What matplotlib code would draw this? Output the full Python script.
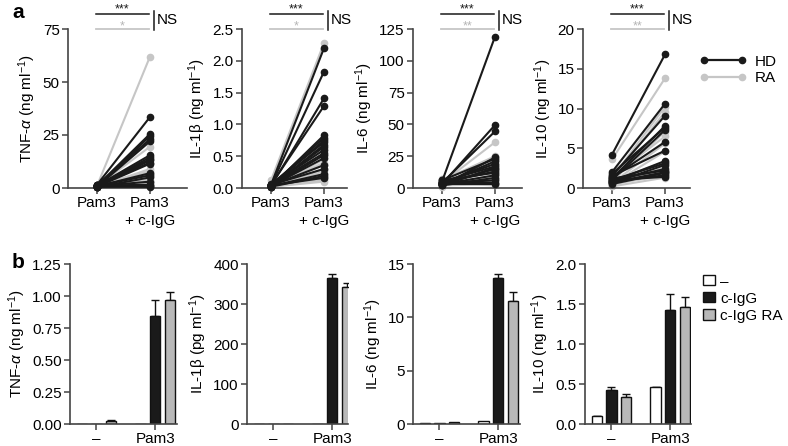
import numpy as np
import matplotlib
matplotlib.use("Agg")
import matplotlib.pyplot as plt
from matplotlib.lines import Line2D
from matplotlib.patches import Patch

plt.rcParams['font.family'] = ['Liberation Sans', 'DejaVu Sans']
plt.rcParams['mathtext.fontset'] = 'custom'
plt.rcParams['mathtext.rm'] = 'Liberation Sans'
plt.rcParams['mathtext.it'] = 'Liberation Sans:italic'
plt.rcParams['font.size'] = 11

# ---- panel a: paired data (Pam3 -> Pam3 + c-IgG) ----
tnf_hd_pre = [1.5, 1.0, 0.8, 1.2, 0.5, 1.0, 0.7, 1.3, 0.9, 1.1, 0.6, 0.8, 1.0, 0.4, 0.9, 1.2, 0.5, 0.7]
tnf_hd_post = [33.5, 25.5, 24.5, 23.0, 22.0, 15.5, 14.5, 13.5, 13.0, 12.0, 11.5, 7.0, 6.0, 5.0, 3.0, 1.5, 1.0, 0.5]
tnf_ra_pre = [1.0, 0.8, 0.5, 1.2, 0.6, 0.9, 0.4, 0.7, 1.1, 0.3, 0.6, 0.8, 0.5, 0.9, 0.4]
tnf_ra_post = [62.0, 19.5, 9.0, 8.0, 7.0, 6.5, 5.5, 5.0, 4.0, 3.5, 3.0, 2.5, 2.0, 1.5, 1.0]

il1_hd_pre = [0.05, 0.04, 0.03, 0.05, 0.02, 0.04, 0.03, 0.06, 0.02, 0.03, 0.05, 0.04, 0.02, 0.03, 0.04, 0.05, 0.03, 0.02, 0.04]
il1_hd_post = [2.2, 1.83, 1.41, 1.29, 0.83, 0.79, 0.75, 0.72, 0.68, 0.65, 0.6, 0.55, 0.52, 0.47, 0.36, 0.3, 0.22, 0.19, 0.16]
il1_ra_pre = [0.12, 0.02, 0.03, 0.01, 0.02, 0.04, 0.01, 0.03, 0.02, 0.01, 0.02, 0.03, 0.02]
il1_ra_post = [2.28, 0.62, 0.52, 0.45, 0.4, 0.36, 0.3, 0.26, 0.22, 0.18, 0.15, 0.12, 0.1]

il6_hd_pre = [5, 3, 4, 2, 6, 3, 4, 5, 2, 3, 4, 6, 3, 2, 4, 5, 3]
il6_hd_post = [119, 49.5, 44.5, 24, 23, 21, 19, 17, 16, 15, 13, 12, 10, 8, 6, 4, 3]
il6_ra_pre = [4, 6, 2, 7, 3, 5, 1, 4, 6, 2, 3, 5, 7, 2, 4]
il6_ra_post = [36, 25, 24, 22.5, 21, 19, 17, 14, 12, 10, 8, 6, 5, 3, 2]

il10_hd_pre = [4.2, 2.0, 1.5, 1.2, 1.8, 1.0, 1.3, 1.5, 0.8, 1.0, 0.6, 0.9, 1.2, 0.7, 0.5, 0.8, 1.0]
il10_hd_post = [16.8, 10.6, 9.1, 7.8, 7.6, 7.3, 5.8, 4.7, 3.4, 3.1, 2.9, 2.4, 2.2, 2.0, 1.9, 1.6, 1.4]
il10_ra_pre = [3.6, 1.3, 1.0, 0.8, 1.4, 0.6, 0.5, 0.9, 0.3, 0.7, 0.4, 0.6, 0.2]
il10_ra_post = [13.8, 10.2, 9.6, 7.1, 6.5, 5.6, 4.6, 3.3, 2.6, 2.2, 1.8, 1.5, 1.3]

a_labels = [r'TNF-$\alpha$ (ng ml$^{-1}$)', 'IL-1β (ng ml$^{-1}$)', 'IL-6 (ng ml$^{-1}$)', 'IL-10 (ng ml$^{-1}$)']
a_ticks = [[0, 25, 50, 75], [0.0, 0.5, 1.0, 1.5, 2.0, 2.5], [0, 25, 50, 75, 100, 125], [0, 5, 10, 15, 20]]
a_ticklabels = [['0', '25', '50', '75'], ['0.0', '0.5', '1.0', '1.5', '2.0', '2.5'],
                ['0', '25', '50', '75', '100', '125'], ['0', '5', '10', '15', '20']]
a_stars_ra = ['*', '*', '**', '**']
a_x = ['Pam3', 'Pam3\n+ c-IgG']

# ---- panel b: bars (means, upper error) ----
groups = ['–', 'Pam3']
conds = ['–', 'c-IgG', 'c-IgG RA']
tnf_b = [[0.003, 0.002, 0.022], [0.003, 0.84, 0.965]]
tnf_b_err = [[0.0, 0.0, 0.012], [0.0, 0.13, 0.065]]
il1_b = [[0.0, 0.0, 0.0], [0.0, 365, 343]]
il1_b_err = [[0, 0, 0], [0, 10, 10]]
il6_b = [[0.05, 0.1, 0.15], [0.25, 13.65, 11.55]]
il6_b_err = [[0, 0, 0], [0, 0.4, 0.8]]
il10_b = [[0.1, 0.42, 0.34], [0.46, 1.43, 1.46]]
il10_b_err = [[0.005, 0.04, 0.03], [0.005, 0.2, 0.13]]

b_labels = [r'TNF-$\alpha$ (ng ml$^{-1}$)', 'IL-1β (pg ml$^{-1}$)', 'IL-6 (ng ml$^{-1}$)', 'IL-10 (ng ml$^{-1}$)']
b_ticks = [[0, 0.25, 0.5, 0.75, 1.0, 1.25], [0, 100, 200, 300, 400], [0, 5, 10, 15], [0, 0.5, 1.0, 1.5, 2.0]]
b_ticklabels = [['0.00', '0.25', '0.50', '0.75', '1.00', '1.25'], ['0', '100', '200', '300', '400'],
                ['0', '5', '10', '15'], ['0.0', '0.5', '1.0', '1.5', '2.0']]

HD = '#1a1a1a'
RA = '#c6c6c6'
SPINE = '#444444'
bar_colors = ['white', '#1a1a1a', '#b8b8b8']

W, H = 788, 446
fig = plt.figure(figsize=(W / 100, H / 100), dpi=100)


def px_axes(l, r, t, b):
    return fig.add_axes([l / W, 1 - b / H, (r - l) / W, (b - t) / H])


def style(ax):
    for s in ['top', 'right']:
        ax.spines[s].set_visible(False)
    for s in ['left', 'bottom']:
        ax.spines[s].set_color(SPINE)
        ax.spines[s].set_linewidth(1.2)
    ax.tick_params(direction='out', length=4, width=1.1, color=SPINE, labelsize=11, pad=2)


# top row
a_boxes = [(68, 187), (242, 347), (413, 522), (583, 690)]
a_data = [(tnf_hd_pre, tnf_hd_post, tnf_ra_pre, tnf_ra_post),
          (il1_hd_pre, il1_hd_post, il1_ra_pre, il1_ra_post),
          (il6_hd_pre, il6_hd_post, il6_ra_pre, il6_ra_post),
          (il10_hd_pre, il10_hd_post, il10_ra_pre, il10_ra_post)]
for i, (l, r) in enumerate(a_boxes):
    ax = px_axes(l, r, 29, 188)
    style(ax)
    hd_pre, hd_post, ra_pre, ra_post = a_data[i]
    for p, q in zip(ra_pre, ra_post):
        ax.plot([0, 1], [p, q], '-o', color=RA, lw=1.5, ms=4.5, clip_on=False, zorder=2)
    for p, q in zip(hd_pre, hd_post):
        ax.plot([0, 1], [p, q], '-o', color=HD, lw=1.5, ms=4.5, clip_on=False, zorder=3)
    scale = 53.0
    ax.set_xlim(-29 / scale, (r - l - 29) / scale)
    ax.set_ylim(a_ticks[i][0], a_ticks[i][-1])
    ax.set_yticks(a_ticks[i])
    ax.set_yticklabels(a_ticklabels[i])
    ax.set_xticks([0, 1])
    ax.set_xticklabels(a_x, linespacing=1.3)
    ax.set_ylabel(a_labels[i], labelpad=3)
    # significance marks
    tr = ax.get_xaxis_transform()
    ax.plot([-0.02, 0.98], [1.097, 1.097], color=HD, lw=1.1, transform=tr, clip_on=False)
    ax.plot([-0.02, 0.98], [1.0, 1.0], color=RA, lw=1.3, transform=tr, clip_on=False)
    ax.text(0.48, 1.103, '***', color=HD, fontsize=9, ha='center', va='baseline', transform=tr)
    ax.text(0.48, 0.995, a_stars_ra[i], color='#b5b5b5', fontsize=9, ha='center', va='baseline', transform=tr)
    ax.plot([1.08, 1.08], [0.995, 1.115], color=HD, lw=1.1, transform=tr, clip_on=False)
    ax.text(1.13, 1.055, 'NS', fontsize=11, ha='left', va='center', transform=tr)

fig.legend(handles=[Line2D([0], [0], color=HD, lw=1.6, marker='o', ms=4.5),
                    Line2D([0], [0], color=RA, lw=1.6, marker='o', ms=4.5)],
           labels=['HD', 'RA'], loc='upper left', bbox_to_anchor=(689 / W, 1 - 44 / H),
           numpoints=2, frameon=False, handlelength=3.1, handletextpad=0.5,
           labelspacing=0.15, fontsize=11, borderpad=0.2)

# bottom row
b_boxes = [(70, 177), (247, 348), (413, 520), (585, 691)]
b_data = [(tnf_b, tnf_b_err), (il1_b, il1_b_err), (il6_b, il6_b_err), (il10_b, il10_b_err)]
for i, (l, r) in enumerate(b_boxes):
    ax = px_axes(l, r, 264, 424)
    style(ax)
    vals, errs = b_data[i]
    for g in range(2):
        for c in range(3):
            x = g * 4 + c
            ax.bar(x, vals[g][c], width=0.7, color=bar_colors[c], edgecolor='#111111',
                   linewidth=1.0, zorder=2)
            if errs[g][c] > 0:
                ax.errorbar(x, vals[g][c], yerr=[[0], [errs[g][c]]], color='#111111',
                            capsize=3, elinewidth=1.0, capthick=1.0, zorder=1)
    ax.set_xlim(-0.8, -0.8 + (r - l) / 14.7)
    ax.set_ylim(b_ticks[i][0], b_ticks[i][-1])
    ax.set_yticks(b_ticks[i])
    ax.set_yticklabels(b_ticklabels[i])
    ax.set_xticks([1, 5])
    ax.set_xticklabels(groups)
    ax.set_ylabel(b_labels[i], labelpad=3)

fig.legend(handles=[Patch(facecolor=c, edgecolor='#111111', linewidth=1.0) for c in bar_colors],
           labels=conds, loc='upper left', bbox_to_anchor=(692 / W, 1 - 264 / H),
           frameon=False, handlelength=0.8, handleheight=0.65, handletextpad=0.35,
           labelspacing=0.2, fontsize=11, borderpad=0.2)

fig.text(12 / W, 1 - 12 / H, 'a', fontsize=15, fontweight='bold', va='center', ha='left')
fig.text(12 / W, 1 - 263 / H, 'b', fontsize=15, fontweight='bold', va='center', ha='left')

fig.savefig('out.png', dpi=100)
